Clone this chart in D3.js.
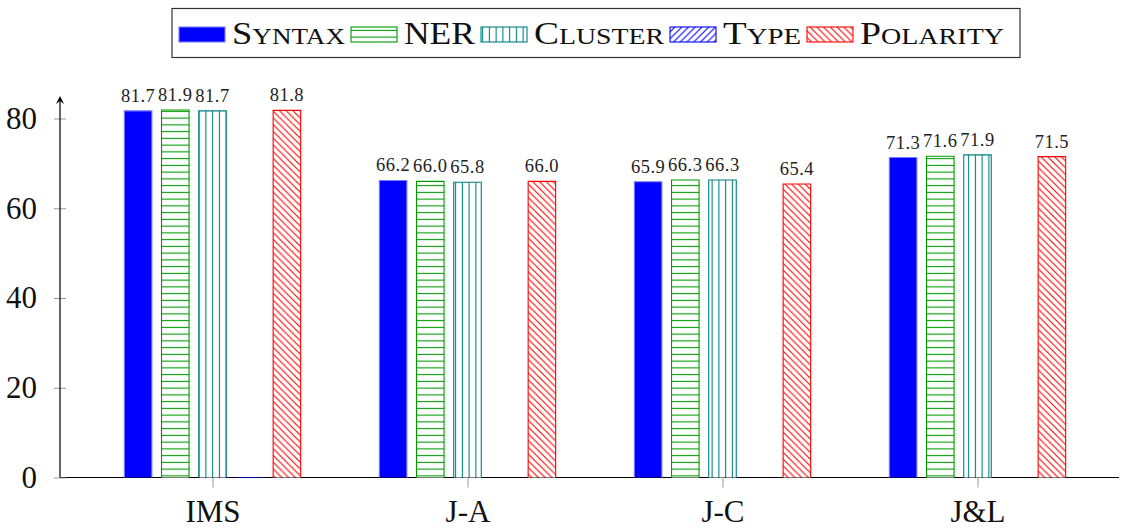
<!DOCTYPE html>
<html><head><meta charset="utf-8">
<script src="https://cdn.jsdelivr.net/npm/d3@7"></script>
<style>body{margin:0;background:#fff} svg{display:block}</style>
</head><body>
<svg id="c" width="1122" height="529"></svg>
<script>
// ---- data ----
const categories = ["IMS", "J-A", "J-C", "J&L"];
const seriesNames = ["Syntax", "NER", "Cluster", "Type", "Polarity"];
const syntaxVals   = [81.7, 66.2, 65.9, 71.3];
const nerVals      = [81.9, 66.0, 66.3, 71.6];
const clusterVals  = [81.7, 65.8, 66.3, 71.9];
const typeVals     = [0, null, null, null];
const polarityVals = [81.8, 66.0, 65.4, 71.5];
const yTickValues  = [0, 20, 40, 60, 80];

const seriesVals = [syntaxVals, nerVals, clusterVals, typeVals, polarityVals];
const seriesStyle = [
  {color: "#0000ff", fill: "#0000ff", edge: "#7a7aff"},
  {color: "#009a00", fill: "url(#hl)", edge: "#009a00"},
  {color: "#008080", fill: "url(#vl)", edge: "#008080"},
  {color: "#0000ff", fill: "url(#ne)", edge: "#0000ff"},
  {color: "#ff0000", fill: "url(#nw)", edge: "#ff0000"}
];
const FONT = "'Liberation Serif', 'Times New Roman', serif";

const svg = d3.select("#c");
const defs = svg.append("defs");
const T = 6.75;
function pat(id, color, d) {
  const p = defs.append("pattern").attr("id", id).attr("patternUnits", "userSpaceOnUse")
    .attr("width", T).attr("height", T);
  p.append("rect").attr("width", T).attr("height", T).attr("fill", "#fff");
  p.append("path").attr("d", d).attr("stroke", color).attr("stroke-width", 1.1).attr("fill", "none");
}
pat("hl", "#009a00", `M0,${T/2}H${T}`);
pat("vl", "#008080", `M${T/2},0V${T}`);
pat("ne", "#0000ff", `M0,${T}L${T},0M${-T/2},${T/2}L${T/2},${-T/2}M${T/2},${T*1.5}L${T*1.5},${T/2}`);
pat("nw", "#ff0000", `M0,0L${T},${T}M${-T/2},${T/2}L${T/2},${T*1.5}M${T/2},${-T/2}L${T*1.5},${T/2}`);

// ---- scales ----
const x = d3.scalePoint().domain(categories).range([212.5, 977.5]);
const xs = d3.scaleBand().domain(seriesNames).range([-93, 93]).paddingInner(0.26).paddingOuter(0.13);
const y = d3.scaleLinear().domain([0, 80]).range([477.5, 118.5]);
const axisX0 = 60, axisX1 = 1119;

// ---- x axis line (under the bars) ----
svg.append("line").attr("x1", axisX0).attr("x2", axisX1).attr("y1", y(0)).attr("y2", y(0))
  .attr("stroke", "#000").attr("stroke-width", 1.2);

// ---- bars ----
seriesNames.forEach((s, si) => {
  const st = seriesStyle[si];
  const g = svg.append("g");
  const data = categories.map((c, ci) => ({c, v: seriesVals[si][ci]})).filter(d => d.v !== null);
  g.selectAll("path").data(data).join("path")
    .attr("d", d => {
      const x0 = x(d.c) + xs(s), x1 = x0 + xs.bandwidth();
      return `M${x0},${y(0)}V${y(d.v)}H${x1}V${y(0)}`;
    })
    .attr("fill", st.fill).attr("stroke", st.edge).attr("stroke-width", 1.1)
    .attr("stroke-opacity", d => d.v === 0 ? 0.6 : 1);
  g.selectAll("text").data(data.filter(d => d.v > 0)).join("text")
    .attr("x", d => x(d.c) + xs(s) + xs.bandwidth() / 2)
    .attr("y", d => y(d.v) - 9)
    .attr("text-anchor", "middle")
    .attr("font-family", FONT).attr("font-size", 18.5).attr("fill", "#222")
    .attr("letter-spacing", 0.5)
    .text(d => d.v.toFixed(1));
});

// ---- y axis ----
const yAxis = svg.append("g").attr("transform", `translate(${axisX0},0)`)
  .call(d3.axisLeft(y).tickValues(yTickValues).tickSizeOuter(0).tickSizeInner(6).tickPadding(17));
yAxis.select(".domain").remove();
yAxis.selectAll(".tick line").attr("x1", -6).attr("x2", 6).attr("stroke", "#999");
yAxis.selectAll(".tick text").attr("font-family", FONT).attr("font-size", 31).attr("fill", "#111");
svg.append("line").attr("x1", axisX0).attr("x2", axisX0).attr("y1", y(0)).attr("y2", 98)
  .attr("stroke", "#000").attr("stroke-width", 1.2);
svg.append("path").attr("d", `M${axisX0-4},${104}L${axisX0},${96}L${axisX0+4},${104}L${axisX0},${101}Z`)
  .attr("fill", "#000");

// ---- x axis ----
const xAxis = svg.append("g").attr("transform", `translate(0,${y(0)})`)
  .call(d3.axisBottom(x).tickSizeOuter(0).tickSizeInner(10).tickPadding(14));
xAxis.select(".domain").remove();
xAxis.selectAll(".tick line").attr("stroke", "#999");
xAxis.selectAll(".tick text").attr("font-family", FONT).attr("font-size", 31).attr("fill", "#111")
  .attr("dy", "0").attr("y", 44.5);

// ---- legend ----
const legendTextWidths = [113, 71, 130, 78, 144];
svg.append("rect").attr("x", 172).attr("y", 8.5).attr("width", 848).attr("height", 49)
  .attr("fill", "#fff").attr("stroke", "#333").attr("stroke-width", 1.2);
let lx = 179;
seriesNames.forEach((s, si) => {
  const st = seriesStyle[si];
  svg.append("rect").attr("x", lx).attr("y", 27).attr("width", 46).attr("height", 15)
    .attr("fill", st.fill).attr("stroke", st.edge).attr("stroke-width", 1.1);
  lx += 53;
  const t = svg.append("text").attr("x", lx).attr("y", 43.5)
    .attr("font-family", FONT).attr("fill", "#111")
    .attr("textLength", legendTextWidths[si]).attr("lengthAdjust", "spacingAndGlyphs");
  t.append("tspan").attr("font-size", 31).text(s[0]);
  const rest = s.slice(1);
  if (rest === rest.toUpperCase()) t.append("tspan").attr("font-size", 31).text(rest);
  else t.append("tspan").attr("font-size", 23).text(rest.toUpperCase());
  lx += legendTextWidths[si] + 6;
});
</script>
</body></html>
